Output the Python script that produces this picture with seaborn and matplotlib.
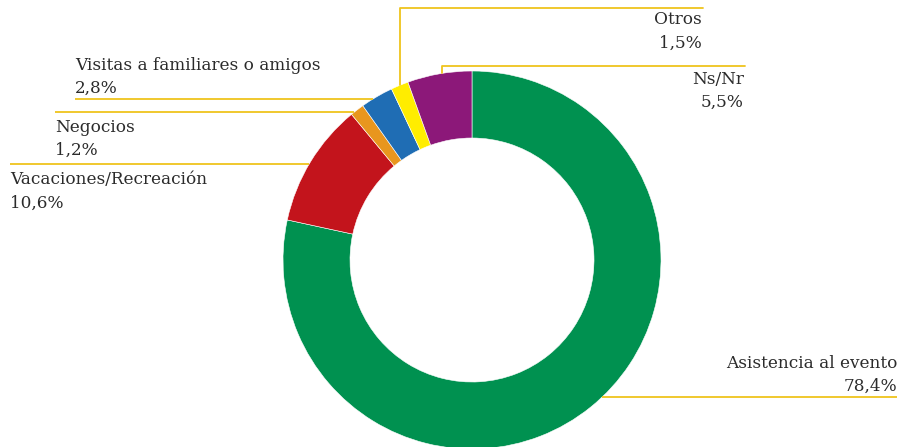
import numpy as np
import seaborn as sns
import matplotlib.pyplot as plt

# data
categories = ['Asistencia al evento', 'Vacaciones/Recreación', 'Negocios',
              'Visitas a familiares o amigos', 'Otros', 'Ns/Nr']
values = [78.4, 10.6, 1.2, 2.8, 1.5, 5.5]
value_labels = ['78,4%', '10,6%', '1,2%', '2,8%', '1,5%', '5,5%']
colors = ['#009150', '#C3141C', '#E8961E', '#1F6DB4', '#FFED00', '#8C1879']

sns.set_theme(style='white')
plt.rcParams['font.family'] = ['DejaVu Serif']

W, H = 899, 447
fig = plt.figure(figsize=(W / 100, H / 100), dpi=100)
ax = fig.add_axes([0, 0, 1, 1])

cx, cy, R = 472, H - 260, 189
wedges, _ = ax.pie(values, colors=colors, startangle=90, counterclock=False,
                   center=(cx, cy), radius=R,
                   wedgeprops=dict(width=67, linewidth=0.4, edgecolor='white'))
ax.set_xlim(0, W)
ax.set_ylim(0, H)
ax.set_aspect('equal')
ax.axis('off')

line_col = '#EFC41C'
txt_col = '#2b2b2b'
fs = 12.15

def edge_x(y, side):
    return cx + side * np.sqrt(R ** 2 - (y - cy) ** 2)

def edge_y(x):
    return cy + np.sqrt(R ** 2 - (x - cx) ** 2)

# horizontal leaders: (index, line y px, text x px, side of pie, alignment, text y px)
horiz = [(0, 397, 897, 1, 'right', 363),
         (1, 164, 10, -1, 'left', 180),
         (2, 112, 55, -1, 'left', 127),
         (3, 99, 75, -1, 'left', 65)]
for i, ly, tx, side, ha, ty in horiz:
    y = H - ly
    x_end = edge_x(y, side)
    ax.plot([tx, x_end], [y, y], color=line_col, lw=1.3, solid_capstyle='butt')
    ax.text(tx, H - ty, categories[i], ha=ha, va='center', fontsize=fs, color=txt_col)
    ax.text(tx, H - ty - 23, value_labels[i], ha=ha, va='center', fontsize=fs, color=txt_col)

# elbow leaders going up from the small top slices
elbow = [(4, 400, 8, 703, 20),
         (5, 442, 66, 745, 79)]
for i, lx, ly, tx, ty in elbow:
    y = H - ly
    ax.plot([lx, lx, tx], [edge_y(lx), y, y], color=line_col, lw=1.3)
    ax.text(tx - 1, H - ty, categories[i], ha='right', va='center', fontsize=fs, color=txt_col)
    ax.text(tx - 1, H - ty - 23, value_labels[i], ha='right', va='center', fontsize=fs, color=txt_col)

fig.savefig('out.png', dpi=100)
